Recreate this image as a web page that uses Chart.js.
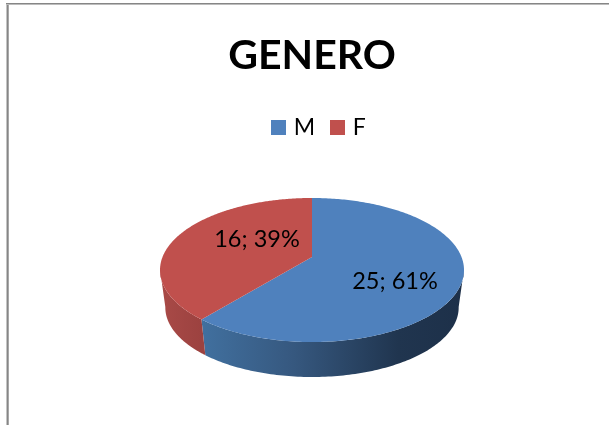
<!DOCTYPE html>
<html>
<head>
<meta charset="utf-8">
<script src="https://cdn.jsdelivr.net/npm/chart.js@4/dist/chart.umd.min.js"></script>
<style>
html,body{margin:0;padding:0;background:#fff;overflow:hidden}
#wrap{position:relative;width:609px;height:425px}
canvas{position:absolute;left:0;top:0}
#bl{position:absolute;left:6px;top:4px;width:3px;height:421px;background:linear-gradient(90deg,#c4c4c4 0 33%,#868686 33% 67%,#a8a8a8 67%)}
#bt{position:absolute;left:6px;top:3px;width:603px;height:2px;background:linear-gradient(180deg,#868686 0 50%,#bcbcbc 50%)}
</style>
</head>
<body>
<div id="wrap"><canvas id="c" width="609" height="425"></canvas><div id="bl"></div><div id="bt"></div></div>
<script>
const categories = ['M', 'F'];
const values = [25, 16];
const sliceColors = ['#4f81bd', '#c0504d'];
const chartTitle = 'GENERO';

const FONT = 'Lato, Carlito, Calibri, sans-serif';
// Perspective view of the flat disc
const view = {cx: 312, k: 149.5, a: 257, b: 23.25, p: -0.1806, midY: 270, baseScale: 0.965, baseDrop: 37.5};
function project(angle, r, base) {
  const X = r * Math.cos(angle), Y = r * Math.sin(angle);
  const w = 1 + view.p * Y;
  let x = view.k * X / w;
  let y = (view.a + view.b * Y) / w;
  if (base) {
    x *= view.baseScale;
    y = view.midY + (y - view.midY) * view.baseScale + view.baseDrop;
  }
  return [x + view.cx, y];
}
const wallStops = [
  [[0, '#41709f'], [0.35, '#36587f'], [0.75, '#20354f'], [1, '#1d3049']],
  [[0, '#a94a47'], [1, '#9c4240']]
];
const labelSpots = [[395, 281], [257, 239]];

function squareIcon(color) {
  const c = document.createElement('canvas');
  c.width = 15; c.height = 15;
  const g = c.getContext('2d');
  g.fillStyle = color;
  g.fillRect(0, 0, 15, 15);
  return c;
}

const pie3d = {
  id: 'pie3d',
  afterLayout(chart) {
    const l = chart.legend;
    l.left += 8; l.right += 8;
  },
  beforeDatasetsDraw(chart) {
    const ctx = chart.ctx;
    const arcs = chart.getDatasetMeta(0).data;
    const frontFrom = 10 * Math.PI / 180, frontTo = 170 * Math.PI / 180;
    arcs.forEach((arc, i) => {
      const segs = [[arc.startAngle, arc.endAngle], [arc.startAngle - 2 * Math.PI, arc.endAngle - 2 * Math.PI]];
      segs.forEach(([s, e]) => {
        const from = Math.max(s, frontFrom), to = Math.min(e, frontTo);
        if (to <= from) return;
        const steps = 120;
        const xa = project(from, 1, false)[0], xb = project(to, 1, false)[0];
        const g = ctx.createLinearGradient(Math.min(xa, xb), 0, Math.max(xa, xb), 0);
        wallStops[i].forEach(([o, c]) => g.addColorStop(o, c));
        ctx.fillStyle = g;
        ctx.beginPath();
        for (let n = 0; n <= steps; n++) {
          const [x, y] = project(from + (to - from) * n / steps, 1, false);
          n ? ctx.lineTo(x, y) : ctx.moveTo(x, y);
        }
        for (let n = steps; n >= 0; n--) {
          const [x, y] = project(from + (to - from) * n / steps, 1, true);
          ctx.lineTo(x, y);
        }
        ctx.closePath();
        ctx.fill();
      });
    });
    arcs.forEach((arc, i) => {
      ctx.fillStyle = chart.data.datasets[0].backgroundColor[i];
      ctx.beginPath();
      const [ax, ay] = project(0, 0, false);
      ctx.moveTo(ax, ay);
      const steps = 240;
      for (let n = 0; n <= steps; n++) {
        const [x, y] = project(arc.startAngle + (arc.endAngle - arc.startAngle) * n / steps, 1, false);
        ctx.lineTo(x, y);
      }
      ctx.closePath();
      ctx.fill();
    });
    const total = values.reduce((a, b) => a + b, 0);
    ctx.fillStyle = '#000';
    ctx.font = '23.5px ' + FONT;
    ctx.textAlign = 'center';
    ctx.textBaseline = 'middle';
    values.forEach((v, i) => {
      ctx.fillText(v + '; ' + Math.round(v / total * 100) + '%', labelSpots[i][0], labelSpots[i][1]);
    });
    return false;
  }
};

new Chart(document.getElementById('c'), {
  type: 'pie',
  data: {labels: categories, datasets: [{data: values, backgroundColor: sliceColors, borderWidth: 0}]},
  options: {
    responsive: false,
    animation: false,
    layout: {padding: {left: 15, top: 0}},
    plugins: {
      tooltip: {enabled: false},
      title: {display: true, text: chartTitle, color: '#000', font: {family: FONT, size: 41, weight: 'bold'}, padding: {top: 31, bottom: 18}},
      legend: {
        position: 'top',
        labels: {
          usePointStyle: true,
          boxWidth: 8,
          boxHeight: 15,
          color: '#000',
          padding: 18,
          font: {family: FONT, size: 23},
          generateLabels(chart) {
            return Chart.overrides.doughnut.plugins.legend.labels.generateLabels(chart).map((item, i) => {
              item.pointStyle = squareIcon(sliceColors[i]);
              return item;
            });
          }
        }
      }
    }
  },
  plugins: [pie3d]
});
</script>
</body>
</html>
